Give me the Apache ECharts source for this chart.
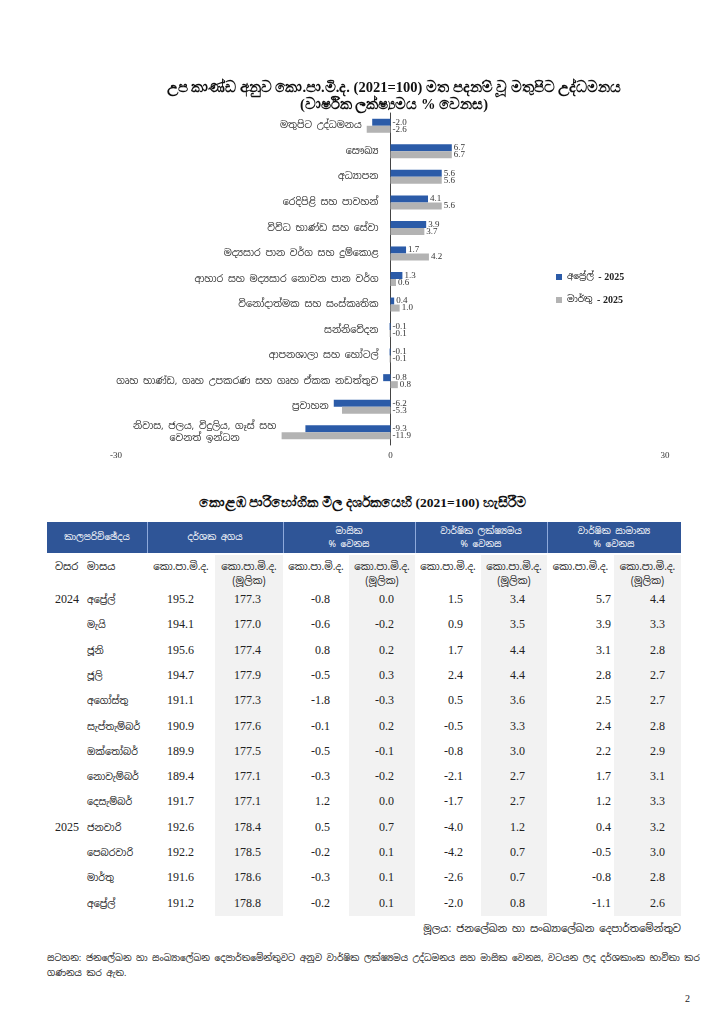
<!DOCTYPE html>
<html>
<head>
<meta charset="utf-8">
<script src="https://cdn.jsdelivr.net/npm/echarts@6/dist/echarts.min.js"></script>
<style>
  html, body { margin:0; padding:0; background:#fff; }
  body { width:725px; height:1024px; position:relative; overflow:hidden;
         font-family:'Noto Sans Sinhala','Iskoola Pota','Noto Sans',sans-serif; color:#222; }
  #chart { position:absolute; left:0; top:0; width:725px; height:480px; }
  .abs { position:absolute; white-space:nowrap; }
  .num { font-family:'Liberation Serif','Times New Roman',serif; font-size:12px; color:#222; }
</style>
</head>
<body>
<div id="chart"></div>
<div id="table"></div>
<script>
// ---------- chart data ----------
const categories = [
  'මතුපිට උද්ධමනය',
  'සෞඛ්‍ය',
  'අධ්‍යාපන',
  'රෙදිපිළි සහ පාවහන්',
  'විවිධ භාණ්ඩ සහ සේවා',
  'මද්‍යසාර පාන වර්ග සහ දුම්කොළ',
  'ආහාර සහ මද්‍යසාර නොවන පාන වර්ග',
  'විනෝදාත්මක සහ සංස්කෘතික',
  'සන්නිවේදන',
  'ආපනශාලා සහ හෝටල්',
  'ගෘහ භාණ්ඩ, ගෘහ උපකරණ සහ ගෘහ ඒකක නඩත්තුව',
  'ප්‍රවාහන',
  'නිවාස, ජලය, විදුලිය, ගෑස් සහ\nවෙනත් ඉන්ධන'
];
const seriesNames = ['අප්‍රේල් - 2025', 'මාර්තු - 2025'];
const april2025 = [-2.0, 6.7, 5.6, 4.1, 3.9, 1.7, 1.3, 0.4, -0.1, -0.1, -0.8, -6.2, -9.3];
const march2025 = [-2.6, 6.7, 5.6, 5.6, 3.7, 4.2, 0.6, 1.0, -0.1, -0.1, 0.8, -5.3, -11.9];
const xAxisMin = -30, xAxisMax = 30, xAxisStep = 30;

// ---------- table data ----------
const tableTitle = 'කොළඹ පාරිභෝගික මිල දර්ශකයෙහි (2021=100) හැසිරීම';
const years = ['2024', '', '', '', '', '', '', '', '', '2025', '', '', ''];
const months = ['අප්‍රේල්', 'මැයි', 'ජූනි', 'ජූලි', 'අගෝස්තු', 'සැප්තැම්බර්', 'ඔක්තෝබර්', 'නොවැම්බර්', 'දෙසැම්බර්', 'ජනවාරි', 'පෙබරවාරි', 'මාර්තු', 'අප්‍රේල්'];
const indexCCPI = [195.2, 194.1, 195.6, 194.7, 191.1, 190.9, 189.9, 189.4, 191.7, 192.6, 192.2, 191.6, 191.2];
const indexCore = [177.3, 177.0, 177.4, 177.9, 177.3, 177.6, 177.5, 177.1, 177.1, 178.4, 178.5, 178.6, 178.8];
const momCCPI = [-0.8, -0.6, 0.8, -0.5, -1.8, -0.1, -0.5, -0.3, 1.2, 0.5, -0.2, -0.3, -0.2];
const momCore = [0.0, -0.2, 0.2, 0.3, -0.3, 0.2, -0.1, -0.2, 0.0, 0.7, 0.1, 0.1, 0.1];
const yoyCCPI = [1.5, 0.9, 1.7, 2.4, 0.5, -0.5, -0.8, -2.1, -1.7, -4.0, -4.2, -2.6, -2.0];
const yoyCore = [3.4, 3.5, 4.4, 4.4, 3.6, 3.3, 3.0, 2.7, 2.7, 1.2, 0.7, 0.7, 0.8];
const avgCCPI = [5.7, 3.9, 3.1, 2.8, 2.5, 2.4, 2.2, 1.7, 1.2, 0.4, -0.5, -0.8, -1.1];
const avgCore = [4.4, 3.3, 2.8, 2.7, 2.7, 2.8, 2.9, 3.1, 3.3, 3.2, 3.0, 2.8, 2.6];
const groupHeaders = ['කාලපරිච්ඡේදය', 'දර්ශක අගය', 'මාසික\n% වෙනස', 'වාර්ෂික ලක්ෂ්‍යමය\n% වෙනස', 'වාර්ෂික සාමාන්‍ය\n% වෙනස'];
const subHeaders = ['වසර', 'මාසය', 'කො.පා.මි.ද.', 'කො.පා.මි.ද.\n(මූලික)', 'කො.පා.මි.ද.', 'කො.පා.මි.ද.\n(මූලික)', 'කො.පා.මි.ද.', 'කො.පා.මි.ද.\n(මූලික)', 'කො.පා.මි.ද.', 'කො.පා.මි.ද.\n(මූලික)'];
const sourceText = 'මූලය: ජනලේඛන හා සංඛ්‍යාලේඛන දෙපාර්තමේන්තුව';
const noteText = 'සටහන: ජනලේඛන හා සංඛ්‍යාලේඛන දෙපාර්තමේන්තුවට අනුව වාර්ෂික ලක්ෂ්‍යමය උද්ධමනය සහ මාසික වෙනස, වටයන ලද දර්ශකාංක භාවිතා කර ගණනය කර ඇත.';
const pageNumber = '2';

// ---------- chart ----------
const SIN = "'Noto Sans Sinhala','Iskoola Pota','Noto Sans',sans-serif";
const SERIF = "'Liberation Serif','Times New Roman',serif";
const catFontSize = 9.5;
const chart = echarts.init(document.getElementById('chart'), null, { renderer: 'canvas' });
const labelCfg = {
  show: true, position: 'right', distance: 2,
  fontFamily: SERIF, fontSize: 9, color: '#333',
  formatter: p => p.value.toFixed(1)
};
const gridLeft = 116, gridRight = 60;
const zeroOffset = (0 - xAxisMin) / (xAxisMax - xAxisMin) * (725 - gridLeft - gridRight);

const mctx = document.createElement('canvas').getContext('2d');
mctx.font = catFontSize + 'px ' + SIN;
let multiW = 0;
categories.forEach(c => { if (c.includes('\n')) c.split('\n').forEach(l => { multiW = Math.max(multiW, Math.ceil(mctx.measureText(l).width)); }); });

chart.setOption({
  animation: false,
  title: {
    text: 'උප කාණ්ඩ අනුව කො.පා.මි.ද. (2021=100) මත පදනම් වූ මතුපිට උද්ධමනය\n(වාර්ෂික ලක්ෂ්‍යමය % වෙනස)',
    left: 389, top: 75, textAlign: 'center',
    textStyle: { fontFamily: SERIF, fontSize: 14.5, fontWeight: 'bold', color: '#111', lineHeight: 17 }
  },
  legend: {
    orient: 'vertical', left: 551, top: 267, itemWidth: 6, itemHeight: 6, itemGap: 13, icon: 'rect',
    data: seriesNames,
    formatter: name => { const parts = name.split(' - '); return parts[0] + ' {b|- ' + parts[1] + '}'; },
    textStyle: { fontFamily: SIN, fontSize: 9, color: '#222',
      rich: { b: { fontFamily: SERIF, fontWeight: 'bold', fontSize: 10, color: '#222' } } }
  },
  grid: { left: gridLeft, right: gridRight, top: 113, bottom: 35, containLabel: false, outerBoundsMode: 'none' },
  xAxis: {
    type: 'value', min: xAxisMin, max: xAxisMax, interval: xAxisStep,
    axisLine: { show: false }, axisTick: { show: false }, splitLine: { show: false },
    axisLabel: { fontFamily: SERIF, fontSize: 9, color: '#333', margin: 6 }
  },
  yAxis: {
    type: 'category', inverse: true, data: categories,
    axisLine: { onZero: true, lineStyle: { color: '#444', width: 1 } },
    axisTick: { length: 4, lineStyle: { color: '#444' } },
    axisLabel: {
      fontFamily: SIN, fontSize: catFontSize, color: '#333', margin: 12 - zeroOffset, lineHeight: 12,
      formatter: v => v.includes('\n') ? v.split('\n').map(l => '{c|' + l + '}').join('\n') : v,
      rich: { c: { width: multiW, align: 'center', fontFamily: SIN, fontSize: catFontSize, color: '#333', lineHeight: 12 } }
    }
  },
  series: [
    { name: seriesNames[0], type: 'bar', data: april2025, barWidth: 7, barGap: '0%',
      itemStyle: { color: '#2B5BA8' }, label: labelCfg },
    { name: seriesNames[1], type: 'bar', data: march2025, barWidth: 7, barGap: '0%',
      itemStyle: { color: '#B3B3B3' }, label: labelCfg }
  ]
});

// shift each category label left of any negative bar (as in the original)
const zeroPx = chart.convertToPixel({ xAxisIndex: 0 }, 0);
const labelRight = zeroPx - 12;
const catItems = categories.map((c, i) => {
  const lowest = Math.min(0, april2025[i], march2025[i]);
  const barLeft = chart.convertToPixel({ xAxisIndex: 0 }, lowest);
  const pad = Math.max(0, labelRight - (barLeft - 5));
  return { value: c, textStyle: { padding: [0, pad, 0, 0] } };
});
chart.setOption({ yAxis: { data: catItems } });

// ---------- table ----------
const T = document.getElementById('table');
function add(html, style, cls) {
  const d = document.createElement('div');
  d.className = 'abs ' + (cls || '');
  d.style.cssText = style;
  d.innerHTML = html;
  T.appendChild(d);
  return d;
}
const esc = s => s.replace(/\n/g, '<br>');
const edges = [47, 85, 147, 215, 283, 349, 415, 481, 547, 614, 681];
const groupSpans = [[0, 2], [2, 4], [4, 6], [6, 8], [8, 10]];
const headTop = 522, headH = 31, subTop = 555, rowTop = 587, rowH = 25.3;
const nRows = months.length;

add(tableTitle, `left:0;width:725px;top:495px;text-align:center;font-family:${SERIF};font-weight:bold;font-size:13.5px;color:#111;`);
add('', `left:${edges[0]}px;top:${headTop}px;width:${edges[10]-edges[0]}px;height:${headH}px;background:#2F5597;`);
groupHeaders.forEach((h, i) => {
  const x0 = edges[groupSpans[i][0]], x1 = edges[groupSpans[i][1]];
  add(`<div style="display:flex;align-items:center;justify-content:center;height:100%;text-align:center;line-height:13px;">${esc(h)}</div>`,
      `left:${x0}px;top:${headTop}px;width:${x1-x0}px;height:${headH}px;color:#fff;font-size:9px;`);
  if (i > 0) add('', `left:${x0}px;top:${headTop}px;width:1px;height:${headH}px;background:#8EA9DB;`);
});
[3, 5, 7, 9].forEach(c => {
  add('', `left:${edges[c]}px;top:${subTop}px;width:${edges[c+1]-edges[c]}px;height:${rowTop + nRows*rowH - subTop}px;background:#F2F2F2;`);
});
subHeaders.forEach((h, c) => {
  const x0 = edges[c], x1 = edges[c+1];
  if (c < 2) {
    add(h, `left:${c===0?55:87}px;top:${subTop+5}px;font-size:10px;color:#222;`);
  } else {
    add(esc(h), `left:${x0}px;top:${subTop+5}px;width:${x1-x0}px;text-align:center;font-size:10px;line-height:14px;color:#222;`);
  }
});
const dataCols = [indexCCPI, indexCore, momCCPI, momCore, yoyCCPI, yoyCore, avgCCPI, avgCore];
const rightPad = [21, 22, 19, 21, 18, 22, 3, 16];
for (let r = 0; r < nRows; r++) {
  const top = rowTop + r * rowH;
  if (years[r]) add(years[r], `left:55px;top:${top}px;height:${rowH}px;line-height:${rowH}px;`, 'num');
  add(months[r], `left:87px;top:${top}px;height:${rowH}px;line-height:${rowH}px;font-size:9.5px;color:#222;`);
  dataCols.forEach((col, k) => {
    const c = k + 2;
    add(col[r].toFixed(1), `left:${edges[c]}px;top:${top}px;width:${edges[c+1]-edges[c]-rightPad[k]}px;height:${rowH}px;line-height:${rowH}px;text-align:right;`, 'num');
  });
}
add(sourceText, `right:${725-681}px;top:922px;font-size:10px;color:#222;`);
add(noteText, `left:47px;top:951px;width:662px;white-space:normal;font-size:9px;line-height:15px;color:#222;`);
add(pageNumber, `left:685px;top:993px;font-size:10px;`, 'num');
</script>
</body>
</html>
